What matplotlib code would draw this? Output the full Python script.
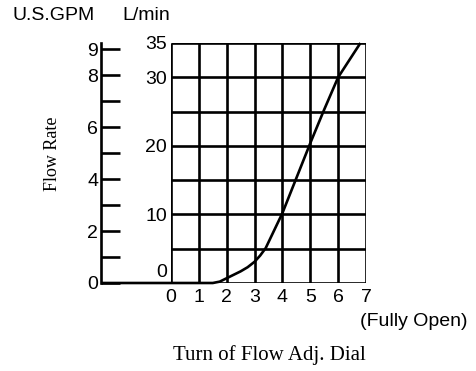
import numpy as np
import matplotlib.pyplot as plt
from matplotlib.transforms import ScaledTranslation

# dial turns vs flow in L/min
turns = [-2.5, 1.5, 1.75, 2.0, 2.25, 2.5, 2.75, 3.0, 3.2, 3.4, 4.0, 4.5, 5.0, 5.5, 6.0, 6.8]
flow_lpm = [0, 0, 0.2, 0.7, 1.2, 1.7, 2.3, 3.1, 4.0, 5.1, 10.2, 15.3, 20.4, 25.3, 30.0, 35.0]

x_ticks = [0, 1, 2, 3, 4, 5, 6, 7]
lpm_grid = [0, 5, 10, 15, 20, 25, 30, 35]
lpm_labels = [0, 10, 20, 30, 35]
gpm_ticks = [0, 1, 2, 3, 4, 5, 6, 7, 8, 9]
gpm_labels = ['0', '', '2', '', '4', '', '6', '', '8', '9']
LPM_PER_GPM = 3.785

plt.rcParams['font.family'] = ['Liberation Sans', 'DejaVu Sans']

fig = plt.figure(figsize=(4.77, 3.71), dpi=100)
ax = fig.add_axes([0.3585, 0.2372, 0.4088, 0.6469])
ax.set_xlim(0, 7)
ax.set_ylim(0, 35)

lw = 1.9
ax.vlines(x_ticks, 0, 35, color='black', lw=lw)
ax.hlines(lpm_grid, 0, 7, color='black', lw=lw)
ax.plot(turns, flow_lpm, color='black', lw=lw, clip_on=False, solid_capstyle='butt')

for s in ax.spines.values():
    s.set_visible(False)

ax.set_xticks(x_ticks)
ax.set_yticks(lpm_labels)
ax.tick_params(axis='both', length=0, labelsize=14, colors='black')
ax.tick_params(axis='x', pad=4)
ax.tick_params(axis='y', pad=3)
# lift the bottom "0" off the baseline
lbl0 = ax.get_yticklabels()[0]
lbl0.set_transform(lbl0.get_transform() + ScaledTranslation(0, 9 / 72, fig.dpi_scale_trans))

# U.S. GPM scale on the far left
gax = ax.secondary_yaxis(-70 / 195,
                         functions=(lambda v: v / LPM_PER_GPM, lambda g: g * LPM_PER_GPM))
gax.set_yticks(gpm_ticks)
gax.set_yticklabels(gpm_labels)
gax.spines['left'].set_linewidth(lw)
gax.tick_params(axis='y', direction='in', length=14, width=lw, labelsize=14, pad=2)

fig.text(12 / 477, 1 - 15 / 371, 'U.S.GPM', fontsize=14, va='center', ha='left')
fig.text(122 / 477, 1 - 15 / 371, 'L/min', fontsize=14, va='center', ha='left')
fig.text(468 / 477, 1 - 321 / 371, '(Fully Open)', fontsize=14, va='center', ha='right')
fig.text(269 / 477, 1 - 355 / 371, 'Turn of Flow Adj. Dial', fontsize=15,
         family='Liberation Serif', va='center', ha='center')
fig.text(53 / 477, 1 - 154 / 371, 'Flow Rate', fontsize=13, family='Liberation Serif',
         rotation=90, va='center', ha='center')

fig.savefig('out.png', dpi=100)
